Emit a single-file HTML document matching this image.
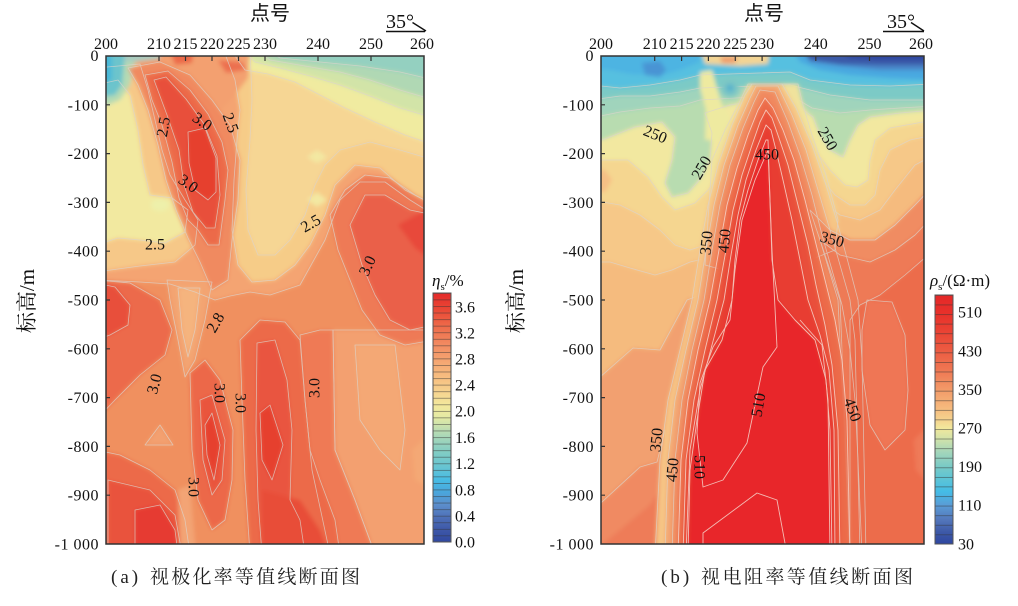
<!DOCTYPE html>
<html><head><meta charset="utf-8"><style>
html,body{margin:0;padding:0;background:#fff;}
svg{display:block;}
</style></head><body>
<svg width="1018" height="606" viewBox="0 0 1018 606" xmlns="http://www.w3.org/2000/svg">
<defs>
<clipPath id="cA"><rect x="106" y="56" width="318" height="488"/></clipPath>
<clipPath id="cB"><rect x="601" y="56" width="323" height="488"/></clipPath>
<filter id="bl" filterUnits="userSpaceOnUse" x="0" y="0" width="1018" height="606"><feGaussianBlur stdDeviation="2"/></filter>
<linearGradient id="gA" x1="0" y1="0" x2="0" y2="1">
<stop offset="0" stop-color="#e42a2a"/><stop offset="0.07" stop-color="#ea4a36"/><stop offset="0.14" stop-color="#ee6e4c"/><stop offset="0.21" stop-color="#f28c62"/><stop offset="0.28" stop-color="#f5a873"/><stop offset="0.35" stop-color="#f7c283"/><stop offset="0.40" stop-color="#f6d490"/><stop offset="0.45" stop-color="#f3e89c"/><stop offset="0.50" stop-color="#e4eaa4"/><stop offset="0.55" stop-color="#bcddb2"/><stop offset="0.60" stop-color="#98d2bd"/><stop offset="0.65" stop-color="#7ccbc6"/><stop offset="0.70" stop-color="#66c4d2"/><stop offset="0.75" stop-color="#48bce4"/><stop offset="0.80" stop-color="#4aa6dc"/><stop offset="0.85" stop-color="#5c8ecc"/><stop offset="0.90" stop-color="#4e70b8"/><stop offset="0.95" stop-color="#3e58a8"/><stop offset="1" stop-color="#3048a0"/>
</linearGradient>
<linearGradient id="gB" x1="0" y1="0" x2="0" y2="1">
<stop offset="0" stop-color="#e42828"/><stop offset="0.07" stop-color="#e8302a"/><stop offset="0.15" stop-color="#ea4434"/><stop offset="0.225" stop-color="#ec5c42"/><stop offset="0.30" stop-color="#ef7652"/><stop offset="0.38" stop-color="#f29a68"/><stop offset="0.45" stop-color="#f6b87c"/><stop offset="0.50" stop-color="#f5d28e"/><stop offset="0.534" stop-color="#f2e89c"/><stop offset="0.58" stop-color="#d0e2aa"/><stop offset="0.63" stop-color="#a4d6ba"/><stop offset="0.69" stop-color="#78cac6"/><stop offset="0.74" stop-color="#5cc4d6"/><stop offset="0.79" stop-color="#44bce6"/><stop offset="0.845" stop-color="#5a9cd6"/><stop offset="0.90" stop-color="#5478bc"/><stop offset="0.95" stop-color="#3e5aa8"/><stop offset="1" stop-color="#2e46a0"/>
</linearGradient>
<pattern id="pA" x="433" y="293" width="18" height="6.553" patternUnits="userSpaceOnUse"><line x1="0" y1="0.3" x2="18" y2="0.3" stroke="#333" stroke-width="0.8" opacity="0.65"/></pattern>
<pattern id="pB" x="935" y="295" width="18" height="9.577" patternUnits="userSpaceOnUse"><line x1="0" y1="0.3" x2="18" y2="0.3" stroke="#333" stroke-width="0.8" opacity="0.65"/></pattern>

<!-- left panel shapes -->
<polygon id="a1" points="300,335 320,330 333,330 335,450 355,500 375,554 330,554 312,470 305,400"/>
<polygon id="a2" points="333,330 434,330 434,554 375,554 355,500 335,450"/>
<polygon id="a2b" points="355,345 395,345 405,430 400,470 380,450 360,420"/>
<polygon id="a2c" points="434,430 412,450 415,480 434,490"/>
<polygon id="a3" points="96,46 434,46 434,215 410,200 385,182 360,182 340,200 325,240 300,285 270,295 250,292 230,296 215,300 195,292 170,284 140,282 96,280"/>
<polygon id="a4" points="96,280 130,283 160,300 172,330 165,355 140,375 115,400 96,420"/>
<polygon id="a5" points="96,283 115,287 130,305 128,325 110,335 96,340"/>
<polygon id="a6" points="96,450 120,455 150,470 175,490 185,520 190,554 96,554"/>
<polygon id="a7" points="108,480 150,490 175,515 182,554 108,554"/>
<polygon id="a8" points="135,510 160,505 175,530 178,554 135,554"/>
<polygon id="a9" points="145,445 160,425 173,445"/>
<polygon id="a10" points="178,490 190,485 196,554 180,554"/>
<polygon id="a11" points="167,280 212,282 205,320 195,360 185,377 178,340 170,300"/>
<polygon id="a11b" points="178,288 200,288 195,330 188,357 182,330"/>
<polygon id="a12" points="96,68 140,64 148,90 155,120 162,150 170,175 185,200 198,220 195,245 175,262 140,266 96,272"/>
<polygon id="a13" points="222,46 434,46 434,205 405,190 380,168 355,165 335,185 325,215 310,245 295,265 275,280 252,282 238,265 232,230 234,180 237,140 240,110 235,80"/>
<polygon id="a14" points="250,46 434,46 434,160 400,150 370,142 340,150 325,165 315,185 305,215 290,240 275,255 258,255 248,230 246,190 250,140 252,100"/>
<polygon id="a15" points="96,85 118,80 130,95 138,130 143,165 150,195 172,198 188,210 185,232 165,243 140,240 118,238 96,245"/>
<polygon id="a18" points="228,46 434,46 434,145 405,135 375,122 345,108 320,95 295,82 268,74 245,70"/>
<polygon id="a19" points="240,46 434,46 434,118 400,108 370,96 340,85 310,76 280,68 255,62"/>
<polygon id="a20" points="250,46 434,46 434,100 400,90 370,80 340,72 305,66 270,60"/>
<polygon id="a21" points="262,46 434,46 434,80 400,72 360,66 320,62 280,58"/>
<polygon id="a22" points="96,46 135,46 135,62 130,85 120,100 96,110"/>
<polygon id="a23" points="96,46 160,46 160,59 135,62 96,62"/>
<polygon id="a24" points="96,46 125,46 124,65 122,85 115,95 96,98"/>
<polygon id="a25" points="96,52 112,56 112,80 96,86"/>
<polygon id="a26" points="135,46 250,46 248,78 235,95 222,110 200,85 170,68 140,70"/>
<polygon id="a27" points="128,68 160,62 190,75 212,100 230,125 240,160 238,200 232,240 228,280 212,290 200,262 188,238 176,210 166,180 158,145 148,110 138,85"/>
<polygon id="a28" points="145,75 168,71 190,90 208,114 222,142 228,170 225,200 221,230 219,245 208,245 198,230 188,220 179,198 172,162 162,125 152,100"/>
<polygon id="a29" points="154,80 166,77 186,99 204,124 217,156 220,195 215,228 206,228 193,212 184,185 179,150 167,115"/>
<polygon id="a30" points="188,132 205,128 216,158 216,192 208,200 195,190 189,163"/>
<polygon id="a31" points="168,46 194,46 192,63 175,65"/>
<polygon id="a32" points="218,60 242,62 246,70 226,73"/>
<polygon id="a33" points="330,215 345,190 365,175 390,178 415,195 434,205 434,340 405,345 380,335 362,310 350,280 338,250"/>
<polygon id="a34" points="350,225 365,195 385,195 410,210 434,215 434,325 410,330 390,320 375,295 362,265"/>
<polygon id="a35" points="398,225 434,205 434,262 415,248"/>
<polygon id="a36" points="190,373 205,360 220,380 233,430 232,480 225,520 212,530 198,500 192,450"/>
<polygon id="a37" points="200,400 212,395 225,440 222,480 212,495 203,460"/>
<polygon id="a37b" points="205,425 212,413 220,445 214,480 207,455"/>
<polygon id="a38" points="240,340 260,320 285,322 300,340 305,400 310,450 320,480 335,520 340,554 250,554 245,480 242,400"/>
<polygon id="a39" points="257,343 275,340 287,380 292,430 290,500 300,520 305,554 262,554 258,500 256,430"/>
<polygon id="a40" points="260,413 270,405 283,445 272,480 262,460"/>
<polygon id="a41" points="262,490 300,500 320,530 330,554 262,554"/>

<!-- right panel shapes -->
<polygon id="b1" points="591,46 934,46 934,185 915,205 895,225 875,240 850,240 830,230 810,210 800,250 760,280 700,295 687,300 660,350 633,348 591,385"/>
<polygon id="b2" points="591,46 934,46 934,155 915,165 895,190 880,210 860,220 840,215 820,200 800,170 790,230 720,255 690,262 672,270 655,275 630,268 610,262 591,262"/>
<polygon id="b2a" points="591,46 934,46 934,135 910,140 890,150 880,170 875,195 865,205 850,205 835,195 815,170 800,140 760,200 705,245 690,250 675,245 660,230 640,215 620,205 591,200"/>
<polygon id="b3" points="591,46 934,46 934,120 890,128 875,140 870,160 868,180 857,187 845,185 830,170 815,150 805,130 797,100 760,150 720,175 708,190 695,203 675,210 662,197 648,177 628,160 591,160"/>
<polygon id="b4" points="591,168 605,170 612,180 605,192 591,192"/>
<polygon id="b5" points="591,46 934,46 934,110 900,113 870,117 858,125 850,140 843,157 830,150 820,135 813,117 790,100 760,100 730,105 705,113 712,133 710,160 702,177 688,193 672,197 665,183 672,160 675,137 662,122 635,127 602,140 591,140"/>
<polygon id="b6" points="591,46 934,46 934,106 900,108 870,110 840,113 812,108 790,95 700,100 680,106 650,108 620,112 591,118"/>
<polygon id="b7" points="591,46 934,46 934,100 870,100 830,95 810,90 790,85 700,88 680,92 650,96 620,96 591,100"/>
<polygon id="b8" points="591,46 934,46 934,84 890,86 850,85 810,80 790,72 700,75 680,80 650,85 620,88 591,85"/>
<polygon id="b9" points="591,46 700,46 700,62 680,70 660,76 630,74 610,70 591,68"/>
<polygon id="b10" points="790,46 934,46 934,80 890,78 850,75 820,70 800,62"/>
<polygon id="b11" points="800,46 934,46 934,70 880,70 840,66 810,62"/>
<polygon id="b12" points="800,46 934,46 934,65 880,65 840,64 810,60"/>
<polygon id="b13" points="830,46 934,46 934,60 880,60 850,58"/>
<polygon id="b14" points="642,63 660,61 666,70 660,77 645,75"/>
<polygon id="b15" points="700,46 770,46 768,64 740,66 705,64"/>
<polygon id="b16" points="720,57 738,57 735,63 722,63"/>
<polygon id="b17" points="700,72 712,70 716,85 722,105 735,125 742,140 705,140 706,110 700,88"/>
<polygon id="b18" points="591,512 640,467 657,462 665,430 676,554 591,554"/>
<polygon id="b19" points="591,554 620,530 650,505 668,480 676,554"/>
<polygon id="b20" points="712,160 725,130 738,105 748,84 798,84 803,105 812,135 826,175 838,220 835,250 760,280 705,265"/>
<polygon id="b21" points="752,84 782,84 796,108 812,145 826,185 838,225 848,262 858,300 862,360 866,554 655,554 660,460 668,400 680,350 692,300 700,250 708,205 718,165 732,125 745,95"/>
<polygon id="b22" points="756,86 778,86 792,115 806,150 818,190 830,230 840,265 850,300 855,340 860,554 665,554 668,460 675,400 686,350 698,300 706,250 714,205 724,165 738,125 750,98"/>
<polygon id="b23" points="760,90 775,92 788,122 800,155 812,195 822,235 832,270 842,305 850,350 855,400 858,460 862,554 672,554 675,460 682,400 692,350 704,300 712,250 720,205 730,165 743,128 754,102"/>
<polygon id="b24" points="810,210 830,230 850,240 875,240 895,225 915,205 934,185 934,554 850,554 840,300"/>
<polygon id="b24b" points="820,240 840,255 870,262 895,250 915,235 934,215 934,554 850,554 838,300"/>
<polygon id="b25" points="934,250 905,275 880,295 860,305 850,320 850,554 934,554"/>
<polygon id="b26" points="867,300 892,302 905,335 908,390 905,430 885,450 870,425 862,370 862,330"/>
<polygon id="b27" points="934,420 914,440 916,470 934,490"/>
<polygon id="b28" points="765,98 758,110 748,135 737,168 727,205 719,250 710,300 698,350 688,400 681,460 678,554 850,554 847,420 842,360 835,320 825,280 815,240 805,200 794,160 783,130 773,108"/>
<polygon id="b29" points="766,110 760,122 752,145 742,175 733,210 726,250 717,300 705,350 694,400 686,460 683,554 840,554 838,430 832,365 825,325 816,285 808,245 798,205 788,165 779,138 772,118"/>
<polygon id="b30" points="766,125 756,150 746,180 738,215 731,255 724,300 712,345 700,390 690,450 686,554 835,554 834,430 829,370 820,335 808,300 800,260 792,220 783,180 776,150 771,130"/>
<polygon id="b31" points="766,140 758,160 748,190 740,220 735,260 732,300 722,340 705,370 697,420 690,470 688,554 832,554 830,430 826,380 815,340 795,320 778,300 772,260 770,200 768,140"/>
</defs>

<rect width="1018" height="606" fill="#fff"/>

<!-- ===== LEFT PANEL FILL ===== -->
<g clip-path="url(#cA)">
<g filter="url(#bl)">
<rect x="96" y="46" width="338" height="508" fill="#f0905f"/>
<use href="#a1" fill="#ef7a55"/><use href="#a2" fill="#f3a070"/><use href="#a2b" fill="#f4a875"/><use href="#a2c" fill="#f4a875"/>
<use href="#a3" fill="#f4a472"/>
<use href="#a4" fill="#ec6a4c"/><use href="#a5" fill="#e8503a"/>
<use href="#a6" fill="#ec6a4a"/><use href="#a7" fill="#e9523c"/><use href="#a8" fill="#e63a30"/>
<use href="#a9" fill="#f3a070"/><use href="#a10" fill="#f3a474"/>
<use href="#a11" fill="#f3a472"/><use href="#a11b" fill="#f5b47e"/>
<use href="#a12" fill="#f6c888"/><use href="#a13" fill="#f6cc88"/><use href="#a14" fill="#f6d694"/>
<use href="#a15" fill="#f2e9a0"/>
<ellipse cx="160" cy="205" rx="9" ry="6" fill="#eef0aa"/>
<polygon points="307,157 317,150 327,157 317,163" fill="#f3e8a2"/>
<polygon points="307,200 317,192 327,200 317,207" fill="#f3e8a2"/>
<use href="#a18" fill="#f0eba0"/><use href="#a19" fill="#d2e4a8"/><use href="#a20" fill="#b0d8b4"/><use href="#a21" fill="#94d0c0"/>
<use href="#a26" fill="#f3a070"/>
<use href="#a22" fill="#b4dab4"/><use href="#a23" fill="#a8ccc0"/><use href="#a24" fill="#6cc4cc"/><use href="#a25" fill="#4ab8d8"/>
<use href="#a27" fill="#f08a60"/><use href="#a28" fill="#ec6a4a"/><use href="#a29" fill="#e8503a"/><use href="#a30" fill="#e6402f"/>
<use href="#a31" fill="#ec6a4a"/><use href="#a32" fill="#ec7050"/>
<use href="#a33" fill="#ee7a56"/><use href="#a34" fill="#ea6048"/><use href="#a35" fill="#e8483a"/>
<use href="#a36" fill="#ec6848"/><use href="#a37" fill="#e9553e"/><use href="#a37b" fill="#e6402f"/>
<use href="#a38" fill="#ec6a4a"/><use href="#a39" fill="#e95540"/><use href="#a41" fill="#e84e38"/><use href="#a40" fill="#e6402f"/>
</g>
<g fill="none" stroke="#dcd4cc" stroke-width="0.8" opacity="0.75" stroke-linejoin="round">
<use href="#a1"/><use href="#a2"/><use href="#a2b"/><use href="#a3"/><use href="#a4"/><use href="#a5"/><use href="#a6"/><use href="#a7"/><use href="#a8"/><use href="#a9"/><use href="#a11"/><use href="#a11b"/>
<use href="#a12"/><use href="#a13"/><use href="#a14"/><use href="#a15"/><use href="#a18"/><use href="#a19"/><use href="#a20"/><use href="#a21"/>
<use href="#a27"/><use href="#a28"/><use href="#a29"/><use href="#a30"/><use href="#a33"/><use href="#a34"/>
<use href="#a36"/><use href="#a37"/><use href="#a37b"/><use href="#a38"/><use href="#a39"/><use href="#a40"/>
</g>
</g>

<!-- ===== RIGHT PANEL FILL ===== -->
<g clip-path="url(#cB)">
<g filter="url(#bl)">
<rect x="591" y="46" width="343" height="508" fill="#f2a070"/>
<use href="#b1" fill="#f5bb7e"/><use href="#b2" fill="#f6c888"/><use href="#b2a" fill="#f5d690"/><use href="#b3" fill="#f2e8a0"/><use href="#b4" fill="#f6bf85"/>
<use href="#b5" fill="#b8dcb0"/><use href="#b6" fill="#a0d4bc"/><use href="#b7" fill="#7ccac6"/><use href="#b8" fill="#56c0e0"/>
<use href="#b9" fill="#4eb4e2"/><use href="#b10" fill="#4aa8e0"/><use href="#b11" fill="#4a84c8"/><use href="#b12" fill="#3a5aa8"/><use href="#b13" fill="#2e46a0"/>
<use href="#b14" fill="#4a94d4"/><use href="#b15" fill="#f2d494"/><use href="#b16" fill="#ef9a6a"/><use href="#b17" fill="#eeeaa0"/>
<use href="#b18" fill="#f08a62"/><use href="#b19" fill="#ee7c58"/>
</g>
<g fill="none" stroke="#dcd4cc" stroke-width="0.8" opacity="0.75" stroke-linejoin="round">
<use href="#b1"/><use href="#b2"/><use href="#b2a"/><use href="#b3"/><use href="#b5"/><use href="#b6"/><use href="#b7"/><use href="#b8"/><use href="#b18"/>
</g>
<g filter="url(#bl)">
<use href="#b20" fill="#f0e29c"/><use href="#b21" fill="#f6c585"/><use href="#b22" fill="#f3a472"/><use href="#b23" fill="#f08a60"/>
<use href="#b24" fill="#f08c62"/><use href="#b24b" fill="#ee7a56"/><use href="#b25" fill="#ec6c4c"/><use href="#b26" fill="#ef7654"/><use href="#b27" fill="#ef7a58"/>
<circle cx="730" cy="88" r="9" fill="#7cc6c4"/><circle cx="730" cy="88" r="4" fill="#5ab4cc"/>
</g>
<g fill="none" stroke="#dcd4cc" stroke-width="0.8" opacity="0.75" stroke-linejoin="round">
<use href="#b20"/><use href="#b21"/><use href="#b22"/><use href="#b23"/><use href="#b24"/><use href="#b24b"/><use href="#b25"/><use href="#b26"/>
</g>
<g filter="url(#bl)">
<use href="#b28" fill="#ec6a4a"/><use href="#b29" fill="#e9503a"/><use href="#b30" fill="#e83c30"/><use href="#b31" fill="#e8282a"/>
</g>
<g fill="none" stroke="#f6d6cc" stroke-width="0.9" opacity="0.85" stroke-linejoin="round">
<use href="#b28"/><use href="#b29"/><use href="#b30"/><use href="#b31"/>
<polygon points="768,150 772,250 777,347 763,367 747,443 723,480 703,487 697,433 700,383 713,347 730,320 735,270 742,220 755,180"/>
<polyline points="703,554 703,533 757,493 777,500 787,554"/>
<polyline points="800,320 822,345 828,400 830,554"/>
</g>
</g>

<!-- ===== FRAMES & TICKS ===== -->
<g fill="none" stroke="#333" stroke-width="1.5">
<rect x="106" y="56" width="318" height="488"/>
<rect x="601" y="56" width="323" height="488"/>
</g>
<g stroke="#333" stroke-width="1.2">
<path d="M159,56v5M185.5,56v5M212,56v5M238.5,56v5M265,56v5M318,56v5M371,56v5"/>
<path d="M106,104.8h4M106,153.6h4M106,202.4h4M106,251.2h4M106,300h4M106,348.8h4M106,397.6h4M106,446.4h4M106,495.2h4"/>
<path d="M654.7,56v5M681.6,56v5M708.4,56v5M735.3,56v5M762.1,56v5M815.8,56v5M869.5,56v5"/>
<path d="M601,104.8h4M601,153.6h4M601,202.4h4M601,251.2h4M601,300h4M601,348.8h4M601,397.6h4M601,446.4h4M601,495.2h4"/>
</g>

<!-- top axis labels -->
<g font-family="Liberation Serif, serif" font-size="16" fill="#111" text-anchor="middle">
<text x="106" y="49">200</text><text x="159" y="49">210</text><text x="185.5" y="49">215</text><text x="212" y="49">220</text><text x="238.5" y="49">225</text><text x="265" y="49">230</text><text x="318" y="49">240</text><text x="371" y="49">250</text><text x="422" y="49">260</text>
<text x="601" y="49">200</text><text x="654.7" y="49">210</text><text x="681.6" y="49">215</text><text x="708.4" y="49">220</text><text x="735.3" y="49">225</text><text x="762.1" y="49">230</text><text x="815.8" y="49">240</text><text x="869.5" y="49">250</text><text x="921" y="49">260</text>
</g>
<!-- y axis labels -->
<g font-family="Liberation Serif, serif" font-size="16" fill="#111" text-anchor="end" letter-spacing="0.5">
<text x="99" y="61">0</text><text x="99" y="110.3">-100</text><text x="99" y="159.1">-200</text><text x="99" y="207.9">-300</text><text x="99" y="256.7">-400</text><text x="99" y="305.5">-500</text><text x="99" y="354.3">-600</text><text x="99" y="403.1">-700</text><text x="99" y="451.9">-800</text><text x="99" y="500.7">-900</text><text x="99" y="549.5">-1 000</text>
<text x="594" y="61">0</text><text x="594" y="110.3">-100</text><text x="594" y="159.1">-200</text><text x="594" y="207.9">-300</text><text x="594" y="256.7">-400</text><text x="594" y="305.5">-500</text><text x="594" y="354.3">-600</text><text x="594" y="403.1">-700</text><text x="594" y="451.9">-800</text><text x="594" y="500.7">-900</text><text x="594" y="549.5">-1 000</text>
</g>

<!-- titles -->
<g font-family="Noto Sans CJK SC, WenQuanYi Zen Hei, sans-serif" font-size="20" fill="#111" text-anchor="middle">
<text x="270" y="20">点号</text>
<text x="764" y="20">点号</text>
</g>
<g font-family="Liberation Serif, Noto Serif CJK SC, serif" font-size="21" fill="#111" text-anchor="middle">
<text transform="translate(34,301) rotate(-90)">标高/m</text>
<text transform="translate(523,301) rotate(-90)">标高/m</text>
</g>
<g font-family="Liberation Serif, serif" font-size="20" fill="#111">
<text x="386" y="28">35°</text>
<text x="887" y="28">35°</text>
</g>
<g stroke="#111" stroke-width="1.4" fill="none">
<path d="M386,31.5H425M412.5,22.5L426,31"/>
<path d="M883,31.5H924M911,22.5L924,31"/>
</g>

<!-- colorbars -->
<rect x="433" y="293" width="18" height="249" fill="url(#gA)"/>
<rect x="433" y="293" width="18" height="249" fill="url(#pA)"/>
<rect x="433" y="293" width="18" height="249" fill="none" stroke="#555" stroke-width="1"/>
<rect x="935" y="295" width="18" height="249" fill="url(#gB)"/>
<rect x="935" y="295" width="18" height="249" fill="url(#pB)"/>
<rect x="935" y="295" width="18" height="249" fill="none" stroke="#555" stroke-width="1"/>
<g font-family="Liberation Serif, serif" font-size="16" fill="#111">
<text x="455" y="312.5">3.6</text><text x="455" y="338.5">3.2</text><text x="455" y="364.5">2.8</text><text x="455" y="390.5">2.4</text><text x="455" y="416.5">2.0</text><text x="455" y="443">1.6</text><text x="455" y="469">1.2</text><text x="455" y="495.5">0.8</text><text x="455" y="521.5">0.4</text><text x="455" y="547.5">0.0</text>
<text x="958" y="317.5">510</text><text x="958" y="356.5">430</text><text x="958" y="395">350</text><text x="958" y="433.5">270</text><text x="958" y="472">190</text><text x="958" y="510.5">110</text><text x="958" y="549.5">30</text>
</g>
<g font-family="Liberation Serif, serif" font-size="17" fill="#111">
<text x="432" y="286"><tspan font-style="italic">η</tspan><tspan font-size="11" dy="4">s</tspan><tspan dy="-4">/%</tspan></text>
<text x="930" y="286"><tspan font-style="italic">ρ</tspan><tspan font-size="11" dy="4">s</tspan><tspan dy="-4">/(Ω·m)</tspan></text>
</g>

<!-- contour labels left -->
<g font-family="Liberation Serif, serif" font-size="16" fill="#111" text-anchor="middle" dominant-baseline="central">
<text transform="translate(164,127) rotate(-80)">2.5</text>
<text transform="translate(202,122) rotate(35)">3.0</text>
<text transform="translate(230,123) rotate(70)">2.5</text>
<text transform="translate(188,184) rotate(35)">3.0</text>
<text transform="translate(155,245)">2.5</text>
<text transform="translate(311,224) rotate(-30)">2.5</text>
<text transform="translate(368,266) rotate(-65)">3.0</text>
<text transform="translate(216,323) rotate(-60)">2.8</text>
<text transform="translate(155,384) rotate(-75)">3.0</text>
<text transform="translate(219,393) rotate(90)">3.0</text>
<text transform="translate(240,403) rotate(90)">3.0</text>
<text transform="translate(315,388) rotate(-90)">3.0</text>
<text transform="translate(193,487) rotate(90)">3.0</text>
</g>
<!-- contour labels right -->
<g font-family="Liberation Serif, serif" font-size="16" fill="#111" text-anchor="middle" dominant-baseline="central">
<text transform="translate(655,135) rotate(22)">250</text>
<text transform="translate(702,168) rotate(-60)">250</text>
<text transform="translate(827,139) rotate(60)">250</text>
<text transform="translate(767,155)">450</text>
<text transform="translate(707,243) rotate(-85)">350</text>
<text transform="translate(725,241) rotate(-85)">450</text>
<text transform="translate(832,240) rotate(15)">350</text>
<text transform="translate(759,405) rotate(-80)">510</text>
<text transform="translate(852,410) rotate(70)">450</text>
<text transform="translate(657,440) rotate(-85)">350</text>
<text transform="translate(673,470) rotate(-85)">450</text>
<text transform="translate(699,467) rotate(90)">510</text>
</g>

<!-- captions -->
<g font-family="Liberation Serif, Noto Serif CJK SC, serif" font-size="19" fill="#222">
<text x="111" y="583" letter-spacing="3">(a)</text>
<text x="150" y="583" font-family="Noto Serif CJK SC, Noto Sans CJK SC, serif" textLength="210" lengthAdjust="spacing">视极化率等值线断面图</text>
<text x="661" y="583" letter-spacing="3">(b)</text>
<text x="701" y="583" font-family="Noto Serif CJK SC, Noto Sans CJK SC, serif" textLength="212" lengthAdjust="spacing">视电阻率等值线断面图</text>
</g>
</svg>
</body></html>
